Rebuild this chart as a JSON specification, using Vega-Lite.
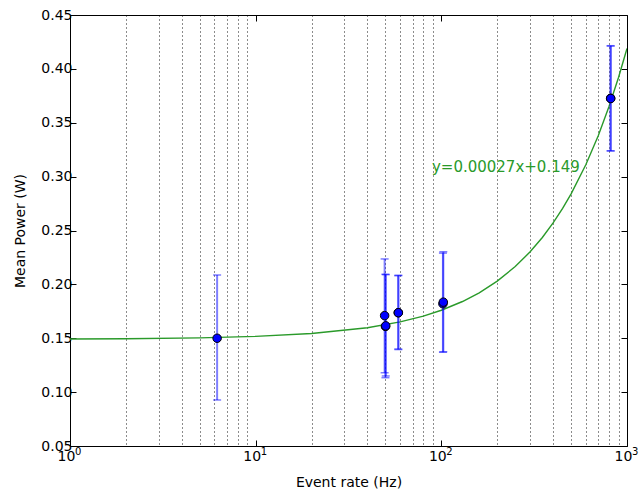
{
  "$schema": "https://vega.github.io/schema/vega-lite/v6.json",
  "width": 557,
  "height": 431,
  "autosize": {"type": "none"},
  "padding": {"left": 70, "top": 15, "right": 12, "bottom": 49},
  "background": "white",
  "config": {
    "view": {"stroke": "black", "strokeWidth": 1},
    "font": "DejaVu Sans",
    "axis": {"labelFont": "DejaVu Sans", "titleFont": "DejaVu Sans", "labelColor": "black", "titleColor": "black", "titleFontWeight": "normal", "domainColor": "black", "tickColor": "black"}
  },
  "datasets": {
    "fit": [
      {"rate": 1, "power": 0.14927},
      {"rate": 2, "power": 0.14954},
      {"rate": 5, "power": 0.15035},
      {"rate": 10, "power": 0.1517},
      {"rate": 20, "power": 0.1544},
      {"rate": 40, "power": 0.1598},
      {"rate": 60, "power": 0.1652},
      {"rate": 80, "power": 0.1706},
      {"rate": 100, "power": 0.176},
      {"rate": 130, "power": 0.1841},
      {"rate": 160, "power": 0.1922},
      {"rate": 200, "power": 0.203},
      {"rate": 250, "power": 0.2165},
      {"rate": 300, "power": 0.23},
      {"rate": 350, "power": 0.2435},
      {"rate": 400, "power": 0.257},
      {"rate": 450, "power": 0.2705},
      {"rate": 500, "power": 0.284},
      {"rate": 600, "power": 0.311},
      {"rate": 700, "power": 0.338},
      {"rate": 800, "power": 0.365},
      {"rate": 900, "power": 0.392},
      {"rate": 1000, "power": 0.419}
    ],
    "obs": [
      {"rate": 6.2, "power": 0.150, "low": 0.0927, "high": 0.2087},
      {"rate": 49.5, "power": 0.171, "low": 0.118, "high": 0.2236},
      {"rate": 50, "power": 0.161, "low": 0.1134, "high": 0.2094},
      {"rate": 50.2, "power": 0.1615, "low": 0.115, "high": 0.209},
      {"rate": 58.6, "power": 0.1737, "low": 0.140, "high": 0.208},
      {"rate": 58.7, "power": 0.1737, "low": 0.1395, "high": 0.2085},
      {"rate": 102, "power": 0.182, "low": 0.137, "high": 0.229},
      {"rate": 102.5, "power": 0.1835, "low": 0.1375, "high": 0.2303},
      {"rate": 816, "power": 0.3727, "low": 0.324, "high": 0.4215},
      {"rate": 817, "power": 0.3725, "low": 0.3238, "high": 0.4212}
    ],
    "note": [
      {"rate": 89, "power": 0.309, "label": "y=0.00027x+0.149"}
    ],
    "decades": [
      {"rate": 1, "exp": "0"},
      {"rate": 10, "exp": "1"},
      {"rate": 100, "exp": "2"},
      {"rate": 1000, "exp": "3"}
    ]
  },
  "resolve": {"axis": {"x": "independent", "y": "independent"}},
  "layer": [
    {
      "data": {"name": "fit"},
      "mark": {"type": "line", "color": "#2a9a2a", "strokeWidth": 1.4, "clip": true},
      "encoding": {
        "x": {
          "field": "rate", "type": "quantitative",
          "scale": {"type": "log", "domain": [1, 1000], "nice": false},
          "axis": {
            "orient": "bottom",
            "title": "Event rate (Hz)",
            "titleFontSize": 14,
            "titlePadding": 12,
            "labelFontSize": 14,
            "labelPadding": 9,
            "labelOffset": -4,
            "labelFlush": false,
            "labelOverlap": false,
            "values": [1,2,3,4,5,6,7,8,9,10,20,30,40,50,60,70,80,90,100,200,300,400,500,600,700,800,900,1000],
            "labelExpr": "datum.value == 1 || datum.value == 10 || datum.value == 100 || datum.value == 1000 ? '10' : ''",
            "grid": true,
            "gridDash": [1, 3],
            "gridColor": "black",
            "gridWidth": 1,
            "gridOpacity": {"condition": {"test": "datum.value == 1 || datum.value == 10 || datum.value == 100 || datum.value == 1000", "value": 0}, "value": 0.9},
            "tickSize": -6,
            "tickOpacity": {"condition": {"test": "datum.value == 1 || datum.value == 10 || datum.value == 100 || datum.value == 1000", "value": 1}, "value": 0},
            "domain": false
          }
        },
        "y": {
          "field": "power", "type": "quantitative",
          "scale": {"domain": [0.05, 0.45], "zero": false, "nice": false},
          "axis": {
            "orient": "left",
            "title": "Mean Power (W)",
            "titleFontSize": 14,
            "titlePadding": 13,
            "labelFontSize": 14,
            "labelPadding": 4,
            "values": [0.05, 0.1, 0.15, 0.2, 0.25, 0.3, 0.35, 0.4, 0.45],
            "format": ".2f",
            "labelFlush": false,
            "labelOverlap": false,
            "grid": false,
            "tickSize": -6,
            "domain": false
          }
        }
      }
    },
    {
      "data": {"name": "obs"},
      "mark": {"type": "rule", "color": "#0000ff", "opacity": 0.5, "strokeWidth": 2},
      "encoding": {
        "x": {
          "field": "rate", "type": "quantitative",
          "scale": {"type": "log", "domain": [1, 1000], "nice": false},
          "axis": {
            "orient": "top", "title": null, "labels": false, "grid": false, "domain": false,
            "values": [1, 10, 100, 1000], "tickSize": -6
          }
        },
        "y": {
          "field": "low", "type": "quantitative",
          "scale": {"domain": [0.05, 0.45], "zero": false, "nice": false},
          "axis": {
            "orient": "right", "title": null, "labels": false, "grid": false, "domain": false,
            "values": [0.05, 0.1, 0.15, 0.2, 0.25, 0.3, 0.35, 0.4, 0.45], "tickSize": -6
          }
        },
        "y2": {"field": "high"}
      }
    },
    {
      "data": {"name": "obs"},
      "mark": {"type": "tick", "orient": "horizontal", "color": "#0000ff", "opacity": 0.5, "size": 8, "thickness": 1.5},
      "encoding": {
        "x": {"field": "rate", "type": "quantitative", "axis": null},
        "y": {"field": "low", "type": "quantitative", "axis": null}
      }
    },
    {
      "data": {"name": "obs"},
      "mark": {"type": "tick", "orient": "horizontal", "color": "#0000ff", "opacity": 0.5, "size": 8, "thickness": 1.5},
      "encoding": {
        "x": {"field": "rate", "type": "quantitative", "axis": null},
        "y": {"field": "high", "type": "quantitative", "axis": null}
      }
    },
    {
      "data": {"name": "obs"},
      "mark": {"type": "point", "filled": true, "fill": "#0000ff", "stroke": "black", "strokeWidth": 1, "size": 72, "opacity": 1, "fillOpacity": 1},
      "encoding": {
        "x": {"field": "rate", "type": "quantitative", "axis": null},
        "y": {"field": "power", "type": "quantitative", "axis": null}
      }
    },
    {
      "data": {"name": "note"},
      "mark": {"type": "text", "align": "left", "baseline": "middle", "fontSize": 15, "font": "DejaVu Sans", "color": "#2a9a2a"},
      "encoding": {
        "x": {"field": "rate", "type": "quantitative", "axis": null},
        "y": {"field": "power", "type": "quantitative", "axis": null},
        "text": {"field": "label"}
      }
    },
    {
      "data": {"name": "decades"},
      "mark": {"type": "text", "align": "left", "baseline": "top", "fontSize": 10, "font": "DejaVu Sans", "color": "black", "dx": 5, "dy": 1, "clip": false},
      "encoding": {
        "x": {"field": "rate", "type": "quantitative", "axis": null},
        "y": {"datum": 0.05, "type": "quantitative", "axis": null},
        "text": {"field": "exp"}
      }
    }
  ]
}
